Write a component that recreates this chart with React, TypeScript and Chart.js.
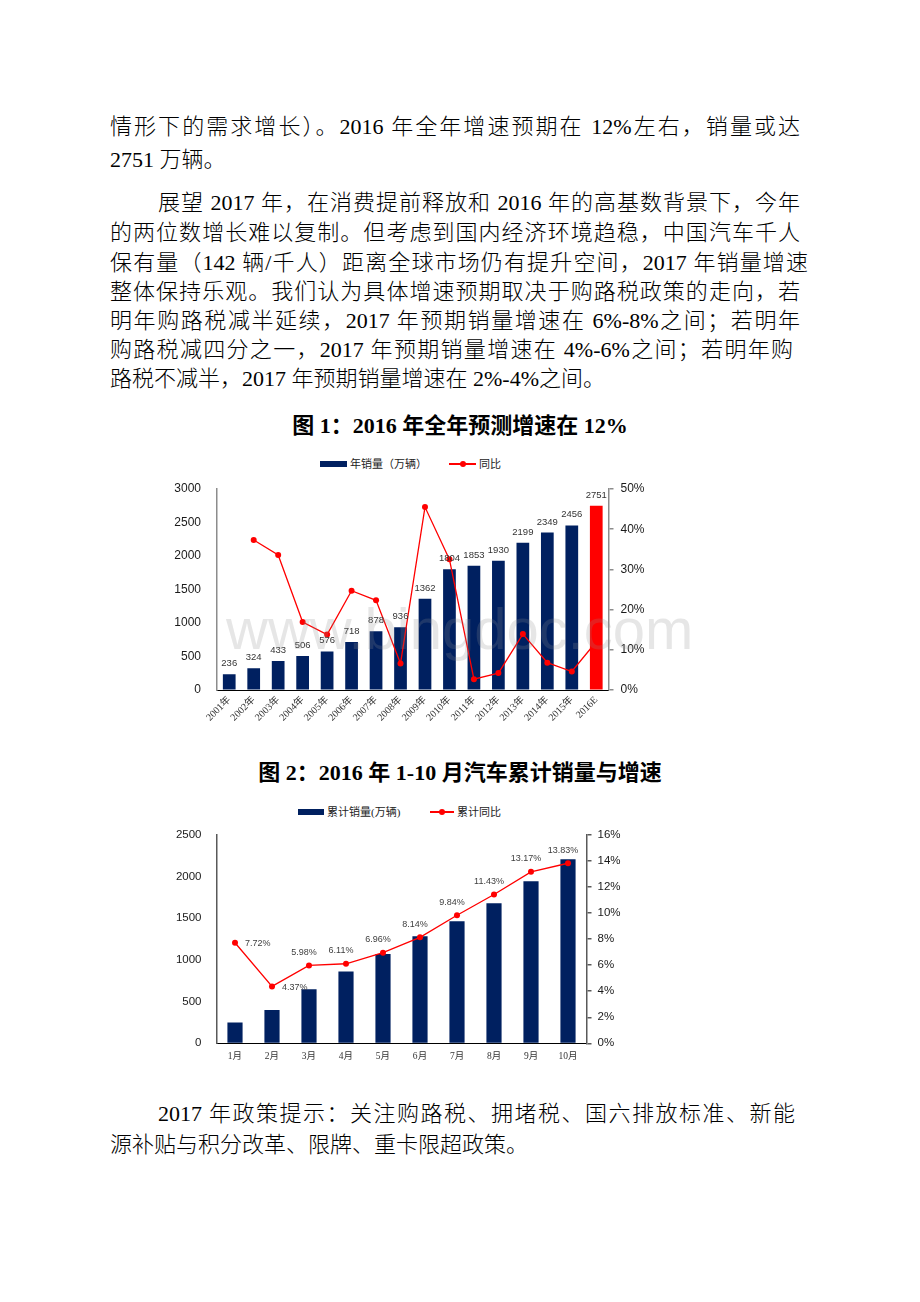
import React, { useEffect, useRef } from "react";
import { Chart, registerables } from "chart.js";
Chart.register(...registerables);

// ---------- data ----------
const years = ["2001年", "2002年", "2003年", "2004年", "2005年", "2006年", "2007年", "2008年", "2009年", "2010年", "2011年", "2012年", "2013年", "2014年", "2015年", "2016E"];
const annualSales = [236, 324, 433, 506, 576, 718, 878, 936, 1362, 1804, 1853, 1930, 2199, 2349, 2456, 2751];
const annualYoY = [null, 37.3, 33.6, 16.9, 13.8, 24.7, 22.3, 6.6, 45.5, 32.5, 2.7, 4.2, 13.9, 6.8, 4.6, 12.0];
const salesTicks = [0, 500, 1000, 1500, 2000, 2500, 3000];
const yoyTicks = [0, 10, 20, 30, 40, 50];

const months = ["1月", "2月", "3月", "4月", "5月", "6月", "7月", "8月", "9月", "10月"];
const cumSales = [250, 400, 648, 861, 1071, 1284, 1465, 1682, 1944, 2210];
const cumYoY = [7.72, 4.37, 5.98, 6.11, 6.96, 8.14, 9.84, 11.43, 13.17, 13.83];
const cumSalesTicks = [0, 500, 1000, 1500, 2000, 2500];
const cumYoYTicks = [0, 2, 4, 6, 8, 10, 12, 14, 16];

const NAVY = "#002060";
const RED = "#ff0000";
const SERIF = '"Liberation Serif", "Noto Sans CJK SC", serif';
const SANS = '"Liberation Sans", Arial, sans-serif';
const CLEAR = "rgba(0,0,0,0)";

// ---------- chart 1 ----------
function Chart1() {
  const ref = useRef<HTMLCanvasElement | null>(null);
  useEffect(() => {
    if (!ref.current) return;
    const barLabels = {
      id: "barLabels1",
      afterDatasetsDraw(chart: any) {
        const meta = chart.getDatasetMeta(1);
        const ctx = chart.ctx;
        ctx.save();
        ctx.font = "9.5px " + SANS;
        ctx.fillStyle = "#333";
        ctx.textAlign = "center";
        ctx.textBaseline = "alphabetic";
        meta.data.forEach((el: any, i: number) => {
          ctx.fillText(String(annualSales[i]), el.x, el.y - 8);
        });
        ctx.restore();
      },
    };
    const chart = new Chart(ref.current, {
      data: {
        labels: years,
        datasets: [
          {
            type: "line",
            label: "同比",
            data: annualYoY as any,
            yAxisID: "y2",
            borderColor: RED,
            backgroundColor: RED,
            borderWidth: 1.3,
            pointRadius: 3,
            pointBorderWidth: 0,
            pointBackgroundColor: RED,
            tension: 0,
            order: 0,
          },
          {
            type: "bar",
            label: "年销量（万辆）",
            data: annualSales,
            yAxisID: "y",
            backgroundColor: years.map((y) => (y.endsWith("E") ? RED : NAVY)),
            barPercentage: 0.52,
            categoryPercentage: 1,
            order: 1,
          },
        ],
      },
      options: {
        animation: false,
        responsive: false,
        devicePixelRatio: 1,
        layout: { padding: { top: 19, left: 0, right: 0, bottom: 0 } },
        plugins: { legend: { display: false }, tooltip: { enabled: false } },
        scales: {
          x: {
            offset: true,
            grid: { display: false, drawTicks: false },
            border: { color: "#000", width: 1 },
            ticks: {
              autoSkip: false,
              maxRotation: 45,
              minRotation: 45,
              padding: 4,
              color: "#333",
              font: { family: SERIF, size: 10 },
            },
            afterFit: (s: any) => {
              s.height = 60;
            },
          },
          y: {
            position: "left",
            min: salesTicks[0],
            max: salesTicks[salesTicks.length - 1],
            afterBuildTicks: (s: any) => {
              s.ticks = salesTicks.map((v) => ({ value: v }));
            },
            grid: { display: true, drawOnChartArea: false, drawTicks: true, tickLength: 14, color: CLEAR },
            border: { color: "#8c8c8c", width: 1.5 },
            ticks: {
              padding: 2,
              color: "#1a1a1a",
              font: { family: SANS, size: 12, lineHeight: 0.6 },
              callback: (v: any) => String(v),
            },
            afterFit: (s: any) => {
              s.width = 57;
            },
          },
          y2: {
            position: "right",
            min: yoyTicks[0],
            max: yoyTicks[yoyTicks.length - 1],
            afterBuildTicks: (s: any) => {
              s.ticks = yoyTicks.map((v) => ({ value: v }));
            },
            grid: { drawOnChartArea: false, drawTicks: true, tickLength: 5, color: "#8c8c8c", lineWidth: 1.5 },
            border: { color: "#8c8c8c", width: 1.5 },
            ticks: {
              padding: 7,
              color: "#1a1a1a",
              font: { family: SANS, size: 12, lineHeight: 0.6 },
              callback: (v: any) => v + "%",
            },
            afterFit: (s: any) => {
              s.width = 51.5;
            },
          },
        },
      },
      plugins: [barLabels],
    });
    return () => chart.destroy();
  }, []);
  return (
    <canvas
      ref={ref}
      width={500}
      height={280}
      style={{ position: "absolute", left: 160, top: 470, width: 500, height: 280 }}
    />
  );
}

// ---------- chart 2 ----------
function Chart2() {
  const ref = useRef<HTMLCanvasElement | null>(null);
  useEffect(() => {
    if (!ref.current) return;
    const lineLabels = {
      id: "lineLabels2",
      afterDatasetsDraw(chart: any) {
        const meta = chart.getDatasetMeta(0);
        const ctx = chart.ctx;
        ctx.save();
        ctx.font = "9px " + SANS;
        ctx.fillStyle = "#404040";
        ctx.textBaseline = "middle";
        meta.data.forEach((el: any, i: number) => {
          const txt = cumYoY[i].toFixed(2) + "%";
          if (i < 2) {
            ctx.textAlign = "left";
            ctx.fillText(txt, el.x + 10, el.y + 1);
          } else {
            ctx.textAlign = "center";
            ctx.fillText(txt, el.x - 5, el.y - 13);
          }
        });
        ctx.restore();
      },
    };
    const chart = new Chart(ref.current, {
      data: {
        labels: months,
        datasets: [
          {
            type: "line",
            label: "累计同比",
            data: cumYoY,
            yAxisID: "y2",
            borderColor: RED,
            backgroundColor: RED,
            borderWidth: 1.3,
            pointRadius: 3,
            pointBorderWidth: 0,
            pointBackgroundColor: RED,
            tension: 0,
            order: 0,
          },
          {
            type: "bar",
            label: "累计销量(万辆)",
            data: cumSales,
            yAxisID: "y",
            backgroundColor: NAVY,
            barPercentage: 0.41,
            categoryPercentage: 1,
            order: 1,
          },
        ],
      },
      options: {
        animation: false,
        responsive: false,
        devicePixelRatio: 1,
        layout: { padding: { top: 10, left: 0, right: 0, bottom: 0 } },
        plugins: { legend: { display: false }, tooltip: { enabled: false } },
        scales: {
          x: {
            offset: true,
            grid: { display: false, drawTicks: false },
            border: { color: "#000", width: 1 },
            ticks: {
              autoSkip: false,
              maxRotation: 0,
              minRotation: 0,
              padding: 7,
              color: "#333",
              font: { family: SERIF, size: 9.5 },
            },
            afterFit: (s: any) => {
              s.height = 26.7;
            },
          },
          y: {
            position: "left",
            min: cumSalesTicks[0],
            max: cumSalesTicks[cumSalesTicks.length - 1],
            afterBuildTicks: (s: any) => {
              s.ticks = cumSalesTicks.map((v) => ({ value: v }));
            },
            grid: { display: true, drawOnChartArea: false, drawTicks: true, tickLength: 13, color: CLEAR },
            border: { color: "#595959", width: 1.5 },
            ticks: {
              padding: 2,
              color: "#1a1a1a",
              font: { family: SANS, size: 11.5, lineHeight: 0.6 },
              callback: (v: any) => String(v),
            },
            afterFit: (s: any) => {
              s.width = 56.5;
            },
          },
          y2: {
            position: "right",
            min: cumYoYTicks[0],
            max: cumYoYTicks[cumYoYTicks.length - 1],
            afterBuildTicks: (s: any) => {
              s.ticks = cumYoYTicks.map((v) => ({ value: v }));
            },
            grid: { drawOnChartArea: false, drawTicks: true, tickLength: 5, color: "#595959", lineWidth: 1.5 },
            border: { color: "#595959", width: 1.5 },
            ticks: {
              padding: 6,
              color: "#1a1a1a",
              font: { family: SANS, size: 11.5, lineHeight: 0.6 },
              callback: (v: any) => v + "%",
            },
            afterFit: (s: any) => {
              s.width = 53.5;
            },
          },
        },
      },
      plugins: [lineLabels],
    });
    return () => chart.destroy();
  }, []);
  return (
    <canvas
      ref={ref}
      width={480}
      height={245}
      style={{ position: "absolute", left: 160, top: 825, width: 480, height: 245 }}
    />
  );
}

// ---------- page pieces ----------
function Line(props: { y: number; x: number; text: string; justify?: boolean; right?: number }) {
  const right = props.right ?? 800;
  return (
    <div
      style={{
        position: "absolute",
        left: props.x,
        top: props.y - 15,
        width: right - props.x,
        height: 30,
        lineHeight: "30px",
        fontSize: 22,
        fontWeight: 300,
        whiteSpace: "nowrap",
        textAlign: props.justify ? "justify" : "left",
        textAlignLast: props.justify ? "justify" : "left",
        color: "#000",
      } as any}
    >
      {props.text}
    </div>
  );
}

function Title(props: { y: number; text: string }) {
  return (
    <div
      style={{
        position: "absolute",
        left: 0,
        width: 920,
        top: props.y - 15,
        height: 30,
        lineHeight: "30px",
        fontSize: 22,
        fontWeight: 700,
        textAlign: "center",
        color: "#000",
      }}
    >
      {props.text}
    </div>
  );
}

function LegendItem(props: { x: number; y: number; kind: "bar" | "line"; text: string; len: number }) {
  return (
    <div style={{ position: "absolute", left: props.x, top: props.y - 8, height: 16, display: "flex", alignItems: "center" }}>
      {props.kind === "bar" ? (
        <div style={{ width: props.len, height: 6, background: NAVY }} />
      ) : (
        <div style={{ position: "relative", width: props.len, height: 6 }}>
          <div style={{ position: "absolute", left: 0, top: 2.3, width: props.len, height: 1.4, background: RED }} />
          <div style={{ position: "absolute", left: props.len / 2 - 3, top: 0, width: 6, height: 6, borderRadius: 3, background: RED }} />
        </div>
      )}
      <span style={{ marginLeft: 3, fontSize: 11, fontFamily: SERIF, color: "#222", lineHeight: "16px" }}>{props.text}</span>
    </div>
  );
}

export default function App() {
  return (
    <div
      style={{
        position: "absolute",
        left: 0,
        top: 0,
        width: 920,
        height: 1302,
        background: "#fff",
        overflow: "hidden",
        fontFamily: SERIF,
      }}
    >
      <Line x={110} y={127} justify text="情形下的需求增长）。2016 年全年增速预期在 12%左右，销量或达" />
      <Line x={110} y={160} text="2751 万辆。" />
      <Line x={158} y={203} justify text="展望 2017 年，在消费提前释放和 2016 年的高基数背景下，今年" />
      <Line x={110} y={233} justify text="的两位数增长难以复制。但考虑到国内经济环境趋稳，中国汽车千人" />
      <Line x={110} y={263} justify right={808} text="保有量（142 辆/千人）距离全球市场仍有提升空间，2017 年销量增速" />
      <Line x={110} y={292} justify text="整体保持乐观。我们认为具体增速预期取决于购路税政策的走向，若" />
      <Line x={110} y={321} justify text="明年购路税减半延续，2017 年预期销量增速在 6%-8%之间；若明年" />
      <Line x={110} y={350} justify right={793} text="购路税减四分之一，2017 年预期销量增速在 4%-6%之间；若明年购" />
      <Line x={110} y={379} text="路税不减半，2017 年预期销量增速在 2%-4%之间。" />

      <Title y={426} text="图 1：2016 年全年预测增速在 12%" />
      <LegendItem x={320} y={464} kind="bar" len={27} text="年销量（万辆）" />
      <LegendItem x={449} y={464} kind="line" len={27} text="同比" />
      <Chart1 />

      <Title y={773} text="图 2：2016 年 1-10 月汽车累计销量与增速" />
      <LegendItem x={298} y={812} kind="bar" len={26} text="累计销量(万辆)" />
      <LegendItem x={430} y={812} kind="line" len={24} text="累计同比" />
      <Chart2 />

      <Line x={158} y={1114} justify right={795} text="2017 年政策提示：关注购路税、拥堵税、国六排放标准、新能" />
      <Line x={110} y={1145} text="源补贴与积分改革、限牌、重卡限超政策。" />

      <div
        style={{
          position: "absolute",
          left: 226,
          top: 596,
          fontSize: 58,
          lineHeight: "66px",
          fontFamily: SANS,
          color: "rgba(140,140,140,0.22)",
          pointerEvents: "none",
          whiteSpace: "nowrap",
        }}
      >
        www.bingdoc.com
      </div>
    </div>
  );
}
